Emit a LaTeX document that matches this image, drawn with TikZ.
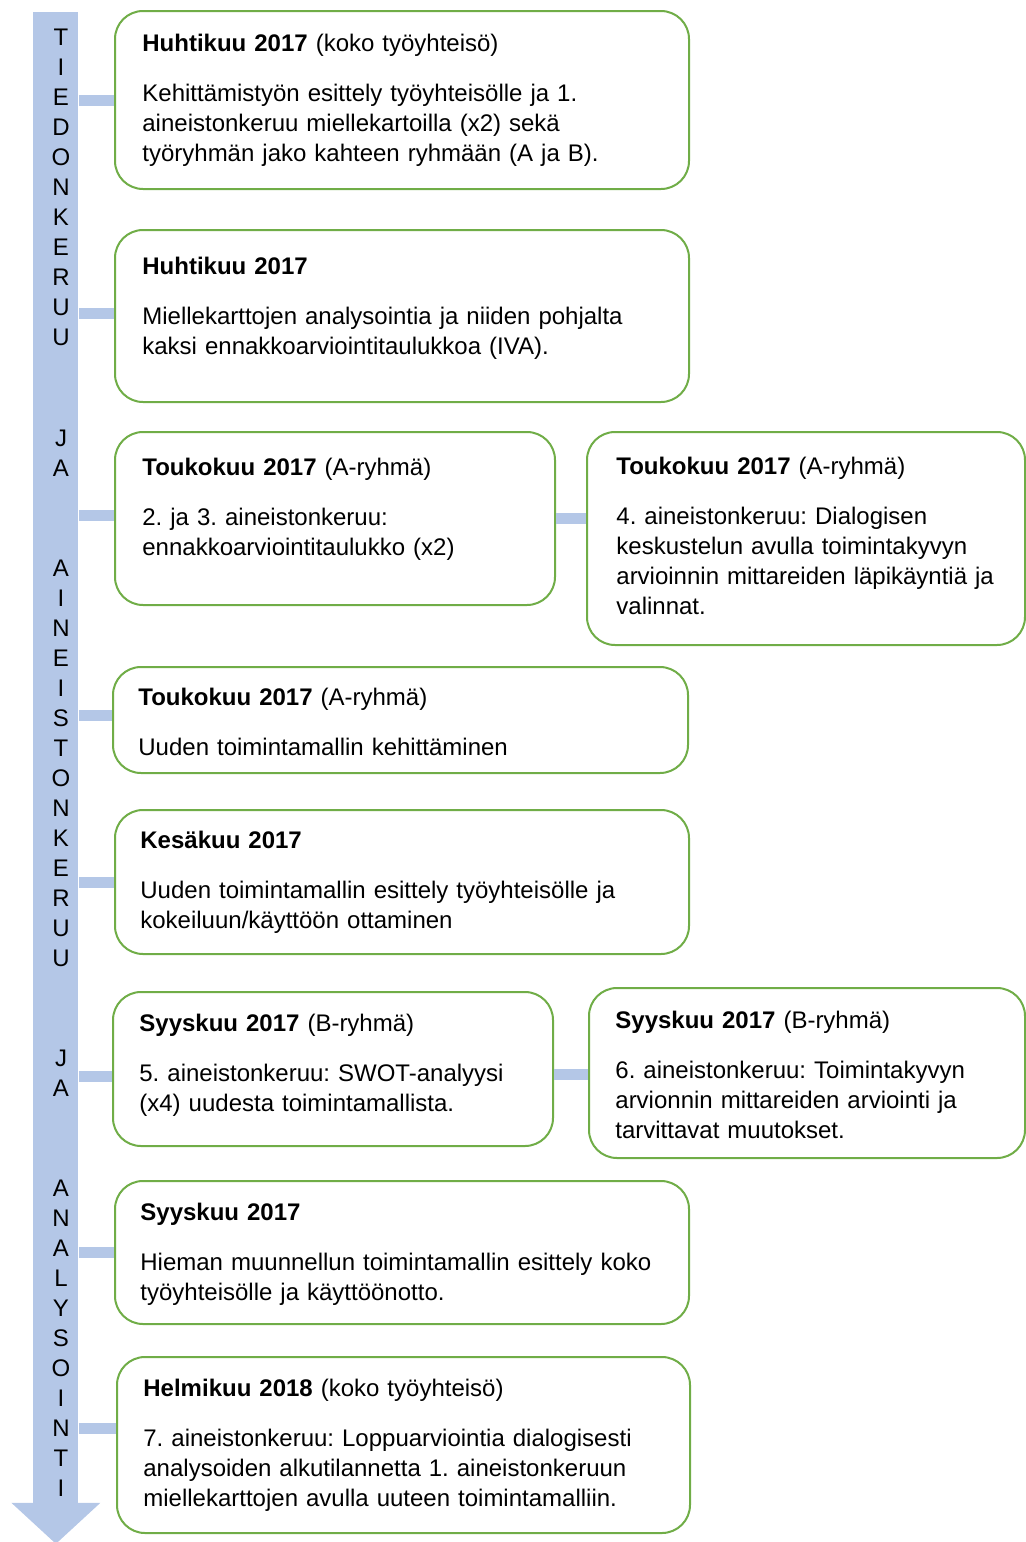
\documentclass[tikz,border=0pt]{standalone}
\usepackage{fontspec}
\setmainfont{Liberation Sans}
\frenchspacing
\usetikzlibrary{calc}
\definecolor{cardgreen}{HTML}{70AD47}
\definecolor{barblue}{HTML}{B4C7E7}
\tikzset{
  card/.style={rectangle, draw=cardgreen, line width=1pt, rounded corners=14pt, fill=white, anchor=north west, inner sep=0pt},
  txt/.style={anchor=base west, inner sep=0pt, text width=270pt, align=left, font=\fontsize{12}{15}\selectfont},
  word/.style={anchor=base, inner sep=0pt, text width=10pt, align=center, font=\fontsize{12}{15}\selectfont},
  bar/.style={draw=barblue, line width=5.5pt},
}
\begin{document}
\begin{tikzpicture}[x=0.5pt, y=-0.5pt]
  \useasboundingbox (0,0) rectangle (1026,1542);

  % arrow
  \node[rectangle, fill=barblue, anchor=north west, inner sep=0pt, minimum width=22.5pt, minimum height=746pt] (shaft) at (33,12) {};
  \fill[barblue] (shaft.south) ++(-22.25pt,1pt) -- ++(44.5pt,0) -- ++(-22.25pt,-20.5pt) -- cycle;

  \node[word] (tiedon) at (61,45.5) {T\\I\\E\\D\\O\\N\\K\\E\\R\\U\\U};
  \node[word] (ja1) at (61,446.5) {J\\A};
  \node[word] (aineisto) at (61,576.5) {A\\I\\N\\E\\I\\S\\T\\O\\N\\K\\E\\R\\U\\U};
  \node[word] (ja2) at (61,1066.5) {J\\A};
  \node[word] (analyysi) at (61,1196.5) {A\\N\\A\\L\\Y\\S\\O\\I\\N\\T\\I};

  % boxes
  \node[card, minimum width=287pt, minimum height=89pt] (b1) at (114,10) {};
  \node[card, minimum width=287pt, minimum height=86pt] (b2) at (114,229) {};
  \node[card, minimum width=220pt, minimum height=86.5pt] (b3) at (114,431) {};
  \node[card, minimum width=219pt, minimum height=106.5pt] (b3b) at (586,431) {};
  \node[card, minimum width=287.5pt, minimum height=53pt] (b4) at (112,666) {};
  \node[card, minimum width=287pt, minimum height=72pt] (b5) at (114,809) {};
  \node[card, minimum width=220pt, minimum height=77pt] (b6) at (112,991) {};
  \node[card, minimum width=218pt, minimum height=85pt] (b6b) at (588,987) {};
  \node[card, minimum width=287pt, minimum height=71.5pt] (b7) at (114,1180) {};
  \node[card, minimum width=286.5pt, minimum height=88pt] (b8) at (116,1356) {};

  \node[txt] (t1) at (142,51.5) {\textbf{Huhtikuu 2017} (koko työyhteisö)\\[10pt]
    Kehittämistyön esittely työyhteisölle ja 1.\\ aineistonkeruu miellekartoilla (x2) sekä\\ työryhmän jako kahteen ryhmään (A ja B).};
  \node[txt] (t2) at (142,274.5) {\textbf{Huhtikuu 2017}\\[10pt]
    Miellekarttojen analysointia ja niiden pohjalta\\ kaksi ennakkoarviointitaulukkoa (IVA).};
  \node[txt] (t3) at (142,475.5) {\textbf{Toukokuu 2017} (A-ryhmä)\\[10pt]
    2. ja 3. aineistonkeruu:\\ ennakkoarviointitaulukko (x2)};
  \node[txt] (t3b) at (616,474.5) {\textbf{Toukokuu 2017} (A-ryhmä)\\[10pt]
    4. aineistonkeruu: Dialogisen\\ keskustelun avulla toimintakyvyn\\ arvioinnin mittareiden läpikäyntiä ja\\ valinnat.};
  \node[txt] (t4) at (138,705.5) {\textbf{Toukokuu 2017} (A-ryhmä)\\[10pt]
    Uuden toimintamallin kehittäminen};
  \node[txt] (t5) at (140,848.5) {\textbf{Kesäkuu 2017}\\[10pt]
    Uuden toimintamallin esittely työyhteisölle ja\\ kokeiluun/käyttöön ottaminen};
  \node[txt] (t6) at (139,1031.5) {\textbf{Syyskuu 2017} (B-ryhmä)\\[10pt]
    5. aineistonkeruu: SWOT-analyysi\\ (x4) uudesta toimintamallista.};
  \node[txt] (t6b) at (615,1028.5) {\textbf{Syyskuu 2017} (B-ryhmä)\\[10pt]
    6. aineistonkeruu: Toimintakyvyn\\ arvionnin mittareiden arviointi ja\\ tarvittavat muutokset.};
  \node[txt] (t7) at (140,1220.5) {\textbf{Syyskuu 2017}\\[10pt]
    Hieman muunnellun toimintamallin esittely koko\\ työyhteisölle ja käyttöönotto.};
  \node[txt] (t8) at (143,1396.5) {\textbf{Helmikuu 2018} (koko työyhteisö)\\[10pt]
    7. aineistonkeruu: Loppuarviointia dialogisesti\\ analysoiden alkutilannetta 1. aineistonkeruun\\ miellekarttojen avulla uuteen toimintamalliin.};

  % bars
  \coordinate (c1) at (b1.west);
  \coordinate (c2) at ([yshift=1.5pt]b2.west);
  \coordinate (c3) at ([yshift=1.75pt]b3.west);
  \coordinate (c4) at ([yshift=2.5pt]b4.west);
  \coordinate (c5) at (b5.west);
  \coordinate (c6) at ([yshift=-3.5pt]b6.west);
  \coordinate (c7) at (b7.west);
  \coordinate (c8) at ([yshift=8.5pt]b8.west);
  \foreach \c in {c1,c2,c3,c4,c5,c6,c7,c8}
    \draw[bar] (shaft.east |- \c) -- (\c);

  \draw[bar] (b3.east) -- (b3b.west |- b3.east);
  \coordinate (c6b) at ([yshift=-2.5pt]b6.east);
  \draw[bar] (c6b) -- (b6b.west |- c6b);
\end{tikzpicture}
\end{document}
